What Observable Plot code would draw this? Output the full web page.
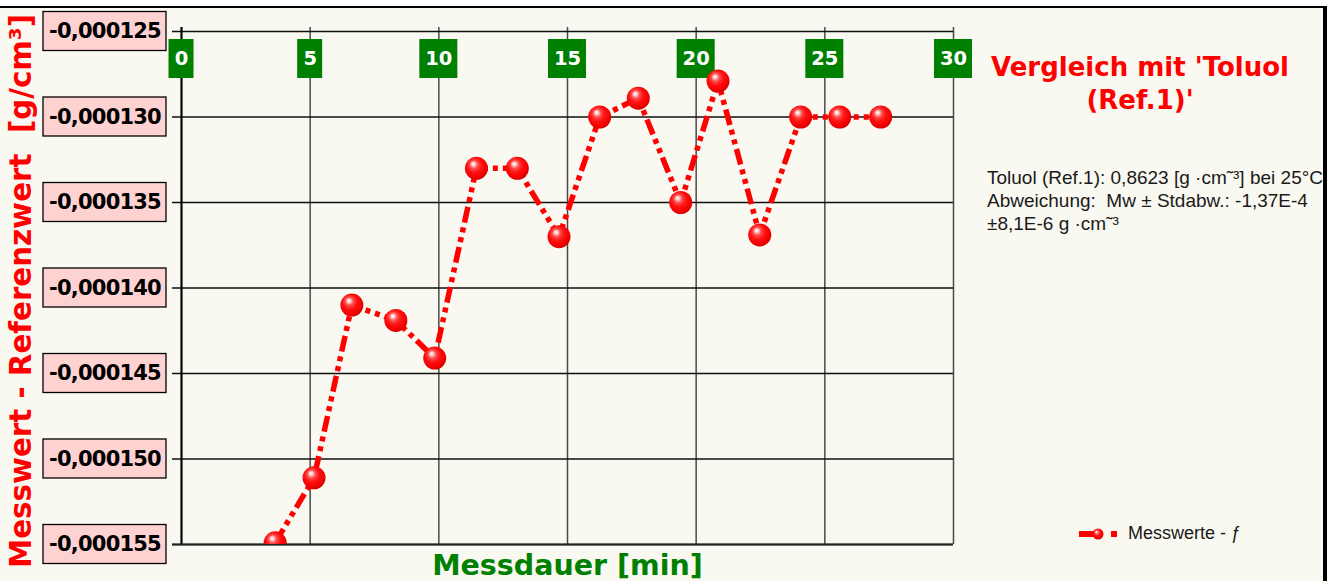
<!DOCTYPE html>
<html><head><meta charset="utf-8">
<script src="https://cdn.jsdelivr.net/npm/d3@7"></script>
<script src="https://cdn.jsdelivr.net/npm/@observablehq/plot@0.6"></script>
<style>
body{margin:0;background:#fff;}
#wrap{position:relative;width:1329px;height:581px;overflow:hidden;background:#fff;}
.abs{position:absolute;white-space:pre;}
</style></head><body><div id="wrap"></div>
<script>
// ---- data ----
const minutes = [3.64, 5.15, 6.62, 8.33, 9.84, 11.46, 13.05, 14.67, 16.25, 17.75, 19.40, 20.85, 22.47, 24.06, 25.58, 27.17];
const deviation = [-0.0001549, -0.0001511, -0.0001410, -0.0001419, -0.0001441, -0.0001330, -0.0001330, -0.0001370, -0.0001300, -0.0001289, -0.0001350, -0.0001279, -0.0001369, -0.0001300, -0.0001300, -0.0001300];
const xTicks = [0, 5, 10, 15, 20, 25, 30];
const xTickLabels = ["0", "5", "10", "15", "20", "25", "30"];
const yTicks = [-0.000125, -0.000130, -0.000135, -0.000140, -0.000145, -0.000150, -0.000155];
const yTickLabels = ["-0,000125", "-0,000130", "-0,000135", "-0,000140", "-0,000145", "-0,000150", "-0,000155"];
const xDomain = [0, 30];
const yDomain = [-0.000155, -0.000125];
const seriesName = "Messwerte - ƒ";
const chartTitle = "Vergleich mit 'Toluol\n(Ref.1)'";
const infoText = "Toluol (Ref.1): 0,8623 [g ·cm˜³] bei 25°C\nAbweichung:  Mw ± Stdabw.: -1,37E-4\n±8,1E-6 g ·cm˜³";
const xTitle = "Messdauer [min]";
const yTitle = "Messwert - Referenzwert  [g/cm³]";

const data = minutes.map((m, i) => ({m, v: deviation[i]}));

// ---- custom marks ----
function gradientDefs() {
  const defs = d3.create("svg:defs");
  const g = defs.append("radialGradient").attr("id", "ball")
    .attr("cx", "0.45").attr("cy", "0.42").attr("r", "0.6").attr("fx", "0.36").attr("fy", "0.3");
  [[0, "#ffffff"], [0.12, "#ffd0d0"], [0.3, "#ff4a4a"], [0.55, "#ff1010"], [0.85, "#f00000"], [1, "#c80000"]]
    .forEach(([o, c]) => g.append("stop").attr("offset", o).attr("stop-color", c));
  return defs.node();
}
function yBoxes(index, {y}, values, dims) {
  const g = d3.create("svg:g");
  yTicks.forEach(v => g.append("rect")
    .attr("x", dims.marginLeft - 138).attr("y", y(v) - 19.5)
    .attr("width", 123).attr("height", 39)
    .attr("fill", "#ffd2d2").attr("stroke", "#000").attr("stroke-width", 1.3));
  return g.node();
}
function xBoxes(index, {x}, values, dims) {
  const g = d3.create("svg:g");
  xTicks.forEach((v, i) => {
    const w = 12 + 13 * xTickLabels[i].length;
    g.append("rect")
      .attr("x", x(v) - w / 2).attr("y", dims.marginTop + 8)
      .attr("width", w).attr("height", 39)
      .attr("fill", "#008000");
  });
  return g.node();
}

const chart = Plot.plot({
  width: 1329, height: 581,
  marginLeft: 181, marginRight: 376, marginTop: 31, marginBottom: 37,
  x: {domain: xDomain, axis: null},
  y: {domain: yDomain, axis: null},
  style: {background: "#f9f8f1", overflow: "visible"},
  marks: [
    gradientDefs,
    Plot.ruleX(xTicks, {stroke: "#4a4a4a", strokeWidth: 1.5, insetTop: -4}),
    Plot.ruleY(yTicks, {stroke: "#111", strokeWidth: 1.3, insetLeft: -9}),
    Plot.ruleX([xDomain[0]], {stroke: "#000", strokeWidth: 2, insetTop: -4}),
    Plot.ruleY([yDomain[0]], {stroke: "#222", strokeWidth: 2, insetLeft: -9}),
    yBoxes,
    Plot.text(yTicks, {y: d => d, text: (d, i) => yTickLabels[i], frameAnchor: "left", dx: -76.5,
      textAnchor: "middle", lineAnchor: "middle", fontSize: 21, fontWeight: "bold",
      fontFamily: "DejaVu Sans", fill: "#000"}),
    xBoxes,
    Plot.text(xTicks, {x: d => d, text: (d, i) => xTickLabels[i], frameAnchor: "top", dy: 27.5,
      textAnchor: "middle", lineAnchor: "middle", fontSize: 19.5, fontWeight: "bold",
      fontFamily: "DejaVu Sans", fill: "#fff"}),
    Plot.line(data, {x: "m", y: "v", stroke: "#ff0000", strokeWidth: 5.5,
      strokeDasharray: "16,5,5,5,5,5", strokeLinecap: "butt", clip: true}),
    Plot.dot(data, {x: "m", y: "v", r: 11.5, fill: "url(#ball)", stroke: "none", clip: true})
  ]
});

// slightly tighten the y tick label glyph spacing
d3.select(chart).selectAll("text").filter(function() { return yTickLabels.includes(this.textContent); })
  .style("letter-spacing", "-0.8px");

const wrap = document.getElementById("wrap");
chart.style.position = "absolute";
chart.style.left = "0px";
chart.style.top = "0px";
wrap.appendChild(chart);

function addDiv(text, css) {
  const d = document.createElement("div");
  d.className = "abs";
  d.textContent = text;
  Object.assign(d.style, css);
  wrap.appendChild(d);
  return d;
}
// frame decorations
addDiv("", {left: "0px", top: "0px", width: "1329px", height: "6px", background: "#fff"});
addDiv("", {left: "0px", top: "6px", width: "1327px", height: "2px", background: "#000"});

// title
addDiv(chartTitle, {left: "940px", top: "51px", width: "400px", textAlign: "center",
  font: "bold 26px 'DejaVu Sans'", lineHeight: "33px", color: "#ff0000"});
// info text
addDiv(infoText, {left: "987px", top: "166px", font: "19px 'Liberation Sans'", lineHeight: "23px", color: "#1a1a1a"});
// right border (covers the overflowing info text like in the original)
addDiv("", {left: "1323px", top: "6px", width: "4px", height: "575px", background: "#000"});
addDiv("", {left: "1327px", top: "0px", width: "2px", height: "581px", background: "#fff"});
// legend
const leg = document.createElement("div");
leg.className = "abs";
Object.assign(leg.style, {left: "1079px", top: "522px", height: "23px", display: "flex", alignItems: "center"});
leg.innerHTML = '<svg width="40" height="14" style="display:block"><rect x="0" y="4" width="17" height="6" fill="#ff0000"/><circle cx="19" cy="7" r="5.5" fill="url(#ball)"/><rect x="32" y="4" width="6" height="6" fill="#ff0000"/></svg>';
const legText = document.createElement("span");
legText.textContent = seriesName;
Object.assign(legText.style, {font: "18px 'Liberation Sans'", lineHeight: "23px", color: "#1a1a1a", marginLeft: "9px"});
leg.appendChild(legText);
wrap.appendChild(leg);
// axis titles
addDiv(xTitle, {left: "367.5px", top: "551px", width: "400px", textAlign: "center",
  font: "bold 28.5px 'DejaVu Sans'", lineHeight: "29px", color: "#008000"});
addDiv(yTitle, {left: "7px", top: "568px", font: "bold 29.3px 'DejaVu Sans'", lineHeight: "29px",
  color: "#ff0000", transform: "rotate(-90deg)", transformOrigin: "0 0"});
</script></body></html>
